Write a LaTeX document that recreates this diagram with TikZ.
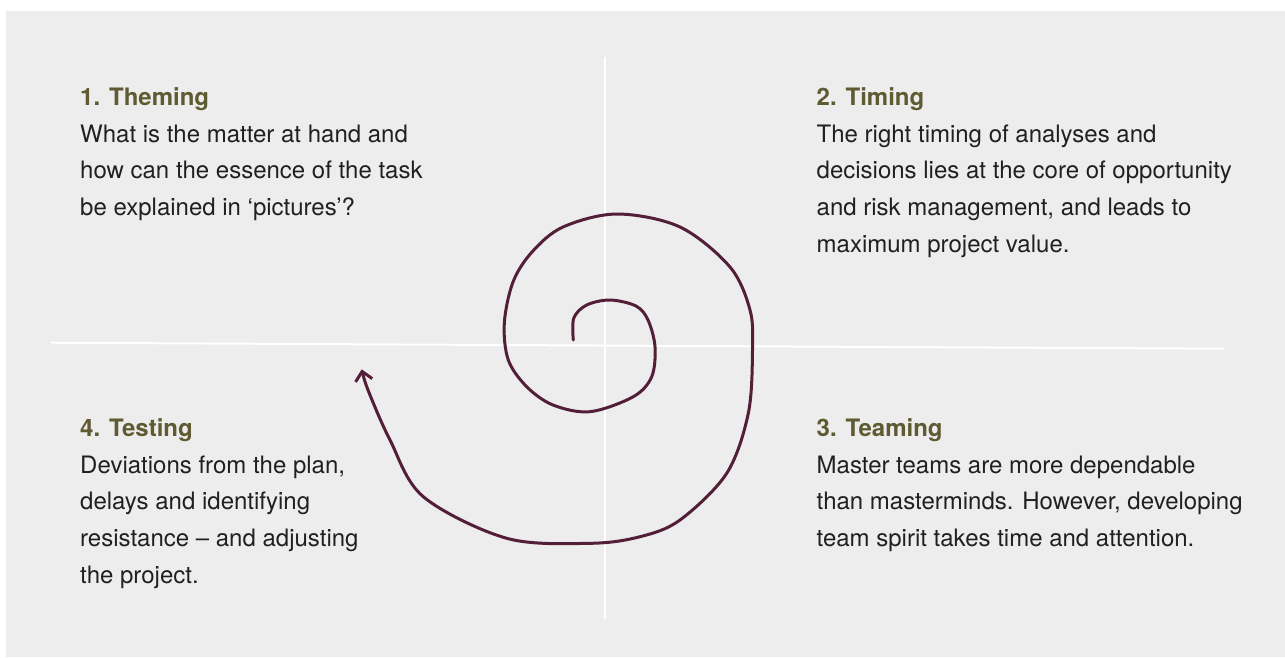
\documentclass[tikz,border=0pt]{standalone}
\usepackage{fontspec}
\setmainfont{TeX Gyre Heros}
\usetikzlibrary{arrows.meta}
\definecolor{bgc}{RGB}{237,237,237}
\definecolor{headc}{RGB}{94,90,50}
\definecolor{bodyc}{RGB}{32,32,32}
\definecolor{spiralc}{RGB}{82,30,56}
\tikzset{
  heading/.style={anchor=base west, inner sep=0pt, font=\fontsize{24}{36.8}\selectfont\bfseries, text=headc},
  para/.style={anchor=base west, inner sep=0pt, align=left, font=\fontsize{24}{36.8}\selectfont, text=bodyc},
  divider/.style={draw=white, line width=2pt},
  spiralline/.style={draw=spiralc, line width=3pt, line cap=round, line join=round, -{Straight Barb[length=9pt,width=17pt,line width=3pt]}}
}
\begin{document}
\begin{tikzpicture}[x=1pt,y=-1pt]
\useasboundingbox (0,0) rectangle (1285,657);
\fill[white] (0,0) rectangle (1285,657);
\fill[bgc] (6,11) rectangle (1285,657);
\draw[divider] (604.7,57) -- (604.7,619);
\draw[divider] (51,342.7) -- (1224,348.7);

% multi-line nodes: base anchor = baseline of last line
\node[heading] (h1) at (80,105) {1. Theming};
\node[para] (b1) at (80,215.6) {What is the matter at hand and\\how can the essence of the task\\be explained in ‘pictures’?};

\node[heading] (h2) at (816.5,105) {2. Timing};
\node[para] (b2) at (816.5,252.4) {The right timing of analyses and\\decisions lies at the core of opportunity\\and risk management, and leads to\\maximum project value.};

\node[heading] (h3) at (816.5,436) {3. Teaming};
\node[para] (b3) at (816.5,546.6) {Master teams are more dependable\\than masterminds. However, developing\\team spirit takes time and attention.};

\node[heading] (h4) at (80,436) {4. Testing};
\node[para] (b4) at (80,583.4) {Deviations from the plan,\\delays and identifying\\resistance – and adjusting\\the project.};

\draw[spiralline] plot[smooth, tension=0.55] coordinates {
 (573.3,340) (573.8,318) (586.7,305) (610,300) (636,306) (648,320) (655,346.7) (651.7,376.7)
 (633.3,396.7) (590,411.7) (553,405) (526.7,386.7) (508.3,360) (504.3,323.3)
 (513,282) (532,252) (563,227) (617,214) (680,227) (730,267) (750,310) (752.5,350)
 (748.3,413.3) (726.7,473.3) (680,520) (640,536.7) (590,543.3) (506.7,538.3)
 (423.3,496.7) (390,440) (368,390) (361.7,369.3)};
\end{tikzpicture}
\end{document}
